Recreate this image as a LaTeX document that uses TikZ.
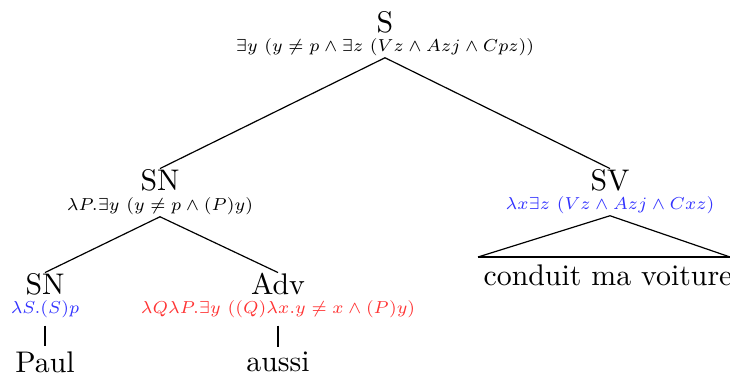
\documentclass[tikz,border=0pt]{standalone}
\usepackage{amsmath}
\usepackage{amssymb}
\usepackage{graphicx}
\usepackage{tikz}
\usepackage{xcolor}

\newcommand{\semf}[1]{\scalebox{0.83}{\scriptsize$#1$}}

\begin{document}
\begin{tikzpicture}[x=0.335pt,y=-0.335pt,
  cat/.style={inner sep=0pt},
  sem/.style={inner sep=0.5pt},
  stem/.style={shorten <=2pt,shorten >=1.5pt}]
\useasboundingbox (0,0) rectangle (730,376);
% root
\node[cat] (S) at (385,22) {S};
\node[sem] (semS) at (385,47) {\semf{\exists y\ (y \neq p \wedge \exists z\ (Vz \wedge Azj \wedge Cpz))}};
% subject
\node[cat] (SN) at (160,180) {SN};
\node[sem] (semSN) at (160,206) {\semf{\lambda P.\exists y\ (y \neq p \wedge (P)y)}};
% verb phrase
\node[cat] (SV) at (610,180) {SV};
\node[sem,blue!80] (semSV) at (610,205) {\semf{\lambda x\exists z\ (Vz \wedge Azj \wedge Cxz)}};
\node[cat] (VP) at (608,275) {conduit ma voiture};
\coordinate (VL) at (478,257);
\coordinate (VR) at (730,257);
% lower level
\node[cat] (SNp) at (45,284) {SN};
\node[sem,blue!80] (semSNp) at (45,309) {\semf{\lambda S.(S)p}};
\node[cat] (Adv) at (278,284) {Adv};
\node[sem,red!80] (semAdv) at (278,309) {\semf{\lambda Q\lambda P.\exists y\ ((Q)\lambda x.y \neq x \wedge (P)y)}};
\node[cat] (Paul) at (45,362) {Paul};
\node[cat] (aussi) at (278,362) {aussi};
% branches
\draw (semS.south) -- (SN.north);
\draw (semS.south) -- (SV.north);
\draw (semSN.south) -- (SNp.north);
\draw (semSN.south) -- (Adv.north);
\draw[stem] (semSNp.south) -- (Paul.north);
\draw[stem] (semAdv.south) -- (aussi.north);
\draw (VL) -- (semSV.south) -- (VR);
\draw[thick] (VL) -- (VR);
\end{tikzpicture}
\end{document}
